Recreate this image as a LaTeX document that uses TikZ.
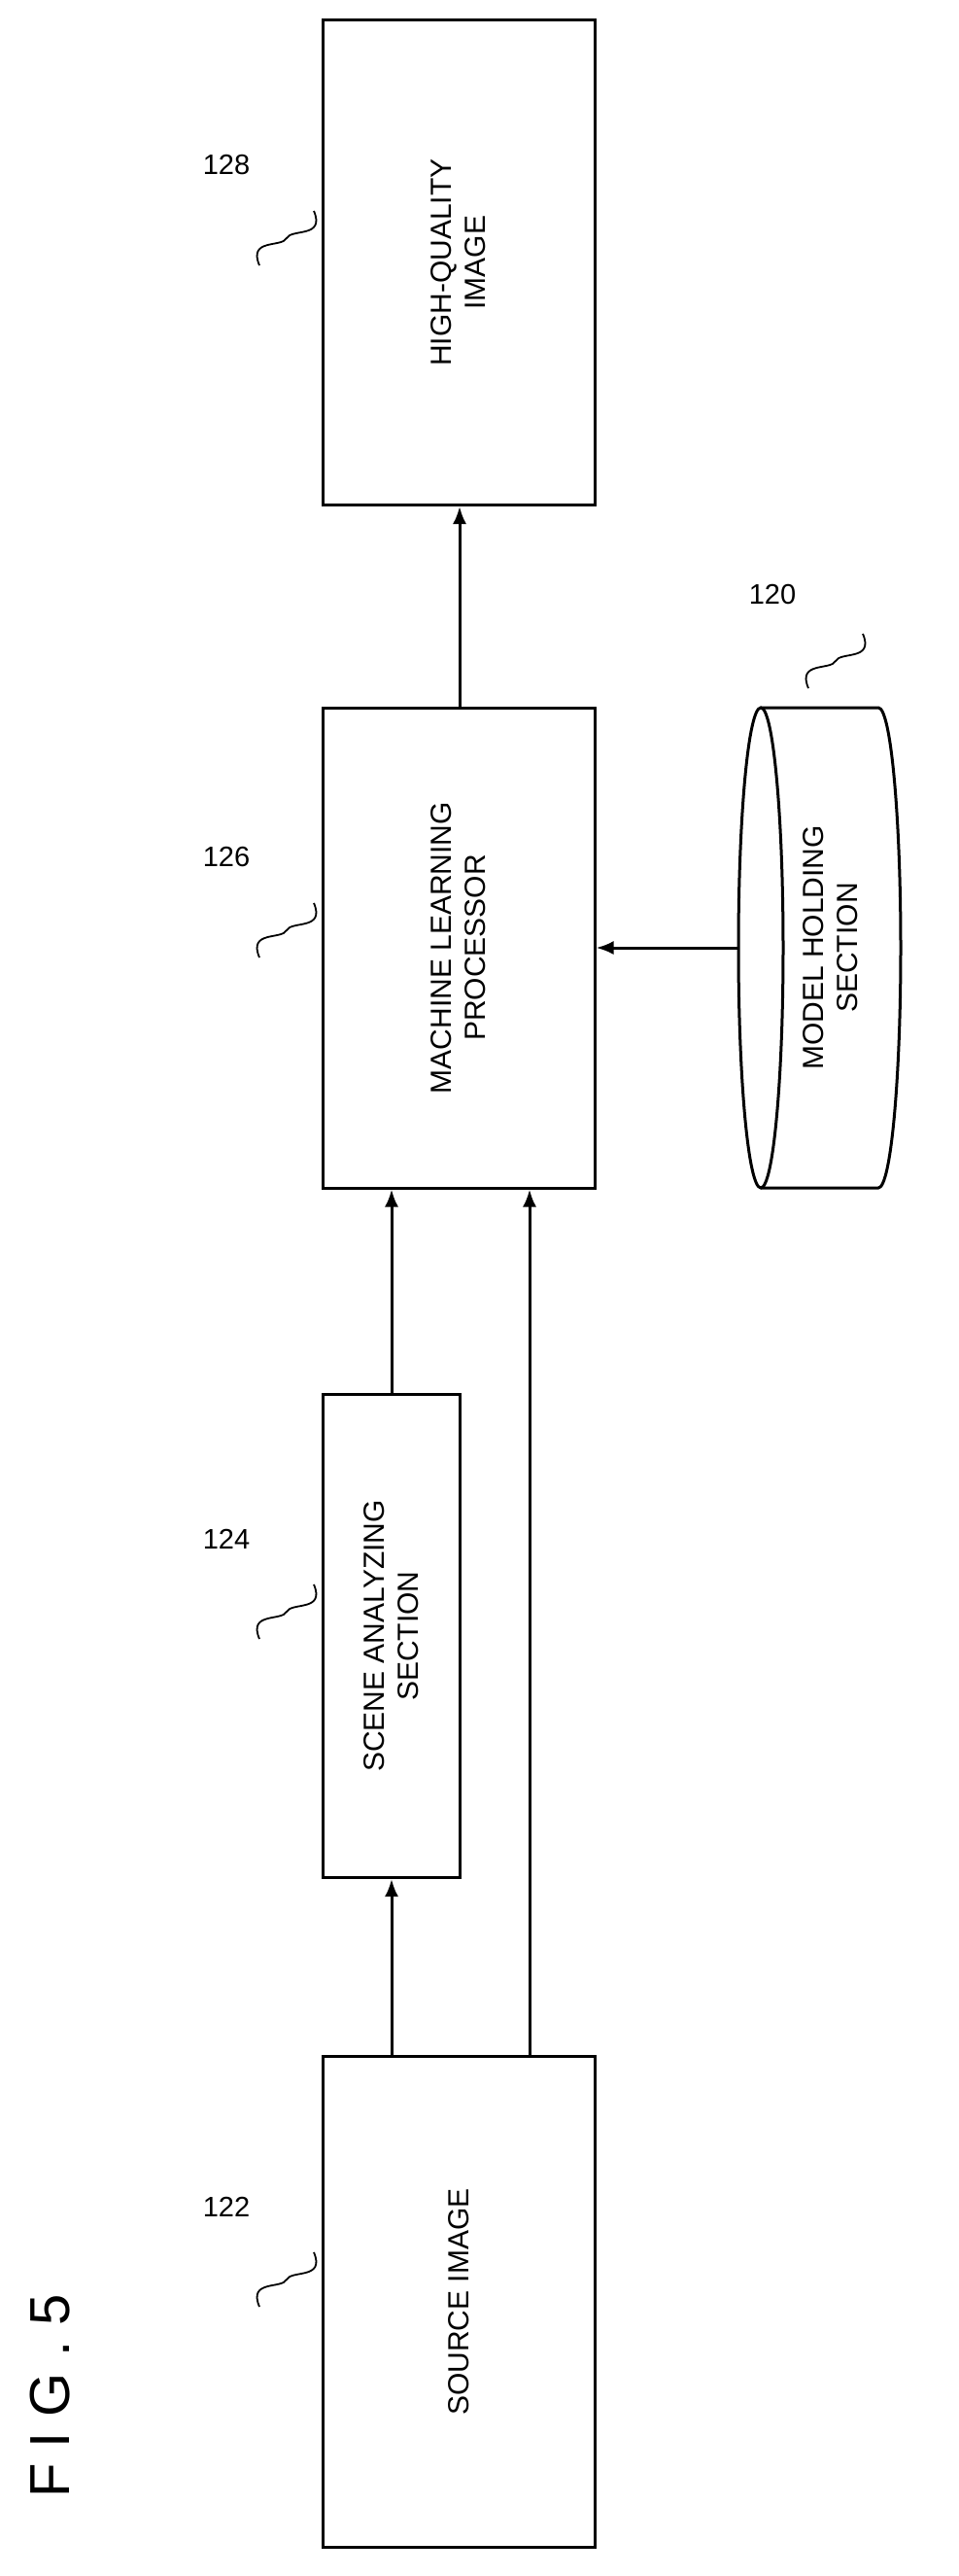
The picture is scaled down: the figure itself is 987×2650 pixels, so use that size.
\documentclass[tikz,border=0pt]{standalone}
\usepackage{fontspec}
\setmainfont{Liberation Sans}
\usetikzlibrary{calc,positioning,arrows.meta}
\tikzset{
  blockbox/.style={draw, line width=3pt, rotate=90, inner sep=0pt, align=center},
  link/.style={-{Latex[length=18pt,width=14pt]}, line width=3pt},
  refnum/.style={font=\fontsize{29}{33}\selectfont},
}
\newcommand{\squig}[1]{\draw[line width=1.8pt] ($(#1)+(-28,28)$) .. controls ($(#1)+(-40,0)$) and ($(#1)+(-5,10)$) .. ($(#1)+(0,0)$) .. controls ($(#1)+(5,-10)$) and ($(#1)+(40,0)$) .. ($(#1)+(28,-28)$);}
\begin{document}
\begin{tikzpicture}[x=1pt,y=-1pt,font=\fontsize{30}{35}\selectfont]
\useasboundingbox (0,0) rectangle (987,2650);
% blocks
\node[blockbox, minimum height=280pt, minimum width=499pt] (hq) at (472,270) {HIGH-QUALITY\\IMAGE};
\node[blockbox, minimum height=280pt, minimum width=494pt] (mlp) at (472,975) {MACHINE LEARNING\\PROCESSOR};
\node[blockbox, minimum height=141pt, minimum width=497pt] (scene) at (402.5,1683) {SCENE ANALYZING\\SECTION};
\node[blockbox, minimum height=280pt, minimum width=505pt] (src) at (472,2368) {SOURCE IMAGE};
% model holding section (cylinder)
\draw[line width=3pt] (783,975) ellipse (23 and 247);
\draw[line width=3pt] (783,728) -- (904,728) arc (-90:90:23 and 247) -- (783,1222);
\node[rotate=90, align=center] (model) at (855,975) {MODEL HOLDING\\SECTION};
\coordinate (modelin) at (760,975);
% reference numbers
\node[refnum] (n128) at (233,170) {128};
\node[refnum] (n126) at (233,882) {126};
\node[refnum] (n124) at (233,1583) {124};
\node[refnum] (n122) at (233,2270) {122};
\node[refnum] (n120) at (795,612) {120};
\squig{295,245}
\squig{295,957}
\squig{295,1658}
\squig{295,2345}
\squig{860,680}
% connectors
\draw[link] (src.east -| 403,0) -- (scene.west -| 403,0);
\draw[link] (scene.east -| 403,0) -- (mlp.west -| 403,0);
\draw[link] (src.east -| 545,0) -- (mlp.west -| 545,0);
\draw[link] (mlp.east -| 473,0) -- (hq.west -| 473,0);
\draw[link] (modelin) -- (mlp.south |- modelin);
% figure title
\node[rotate=90, font=\fontsize{58}{60}\selectfont] (fig) at (52,2465) {F I G . 5};
\end{tikzpicture}
\end{document}
